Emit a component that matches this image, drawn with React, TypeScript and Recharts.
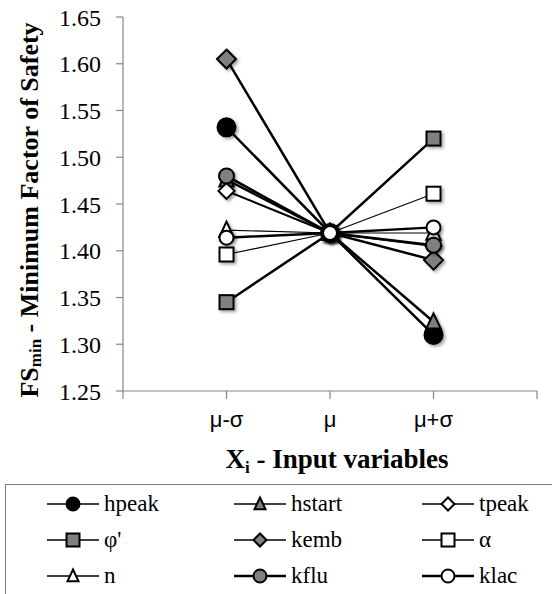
import React from "react"
import { LineChart, Line, XAxis, YAxis } from "recharts"

const xLabels = ["μ-σ", "μ", "μ+σ"]
const yTicks = [1.25, 1.3, 1.35, 1.4, 1.45, 1.5, 1.55, 1.6, 1.65]

const hpeak = [1.532, 1.419, 1.31]
const hstart = [1.476, 1.419, 1.324]
const tpeak = [1.464, 1.419, 1.405]
const phi = [1.345, 1.419, 1.52]
const kemb = [1.605, 1.419, 1.39]
const alpha = [1.396, 1.419, 1.461]
const nVals = [1.422, 1.419, 1.419]
const kflu = [1.48, 1.419, 1.406]
const klac = [1.414, 1.419, 1.425]

type Shape = "circle" | "square" | "diamond" | "triangle"

interface SeriesDef {
  key: string
  label: string
  values: number[]
  shape: Shape
  fill: string
  size: number
  width: number
}

const series: SeriesDef[] = [
  { key: "hpeak", label: "hpeak", values: hpeak, shape: "circle", fill: "#000", size: 9, width: 2.5 },
  { key: "hstart", label: "hstart", values: hstart, shape: "triangle", fill: "#808080", size: 8.5, width: 2.5 },
  { key: "tpeak", label: "tpeak", values: tpeak, shape: "diamond", fill: "#fff", size: 8, width: 2 },
  { key: "phi", label: "φ'", values: phi, shape: "square", fill: "#808080", size: 7, width: 2.5 },
  { key: "kemb", label: "kemb", values: kemb, shape: "diamond", fill: "#808080", size: 9.5, width: 2.5 },
  { key: "alpha", label: "α", values: alpha, shape: "square", fill: "#fff", size: 7, width: 1.2 },
  { key: "n", label: "n", values: nVals, shape: "triangle", fill: "#fff", size: 8.5, width: 1.2 },
  { key: "kflu", label: "kflu", values: kflu, shape: "circle", fill: "#808080", size: 7.5, width: 2.5 },
  { key: "klac", label: "klac", values: klac, shape: "circle", fill: "#fff", size: 7, width: 2.5 },
]

const data = xLabels.map((label, i) => {
  const row: Record<string, number | string> = { x: i + 1, label }
  series.forEach((s) => {
    row[s.key] = s.values[i]
  })
  return row
})

const serif = '"Liberation Serif", "Times New Roman", serif'
const sans = '"Liberation Sans", Arial, sans-serif'

function Marker({ cx, cy, shape, fill, size, filter }: { cx: number; cy: number; shape: Shape; fill: string; size: number; filter?: string }) {
  const common = { fill, stroke: "#000", strokeWidth: 2, filter }
  if (shape === "circle") return <circle cx={cx} cy={cy} r={size} {...common} />
  if (shape === "square") return <rect x={cx - size} y={cy - size} width={size * 2} height={size * 2} {...common} />
  if (shape === "diamond")
    return <polygon points={`${cx},${cy - size} ${cx + size},${cy} ${cx},${cy + size} ${cx - size},${cy}`} {...common} />
  return <polygon points={`${cx},${cy - size} ${cx + size * 0.85},${cy + size * 0.8} ${cx - size * 0.85},${cy + size * 0.8}`} {...common} />
}

function YLabel() {
  const cx = 29
  const cy = 210
  return (
    <text
      x={cx}
      y={cy}
      transform={`rotate(-90, ${cx}, ${cy})`}
      textAnchor="middle"
      dominantBaseline="central"
      style={{ fontFamily: serif, fontWeight: "bold", fontSize: 26 }}
      fill="#000"
    >
      FS
      <tspan dy={6} style={{ fontSize: 17 }}>min</tspan>
      <tspan dy={-6}>{" - Minimum  Factor of Safety"}</tspan>
    </text>
  )
}

function XLabel() {
  return (
    <text x={337} y={468} textAnchor="middle" style={{ fontFamily: serif, fontWeight: "bold", fontSize: 27 }} fill="#000">
      X
      <tspan dy={5} style={{ fontSize: 17 }}>i</tspan>
      <tspan dy={-5}>{" - Input variables"}</tspan>
    </text>
  )
}

function LegendBox() {
  const cols = [47, 234, 422]
  const rows = [504, 540, 576]
  return (
    <div
      style={{
        position: "absolute",
        left: 5,
        top: 484,
        width: 560,
        height: 130,
        border: "1.5px solid #7f7f7f",
        boxSizing: "border-box",
      }}
    >
      {series.map((s, i) => {
        const x = cols[i % 3] - 6
        const y = rows[Math.floor(i / 3)] - 485
        return (
          <div key={s.key} style={{ position: "absolute", left: x, top: y - 12, height: 24, display: "flex", alignItems: "center" }}>
            <svg width={52} height={24}>
              <line x1={0} x2={52} y1={12} y2={12} stroke="#000" strokeWidth={s.key === "kflu" || s.key === "klac" ? 2.5 : 1.5} />
              <Marker cx={26} cy={12} shape={s.shape} fill={s.fill} size={6.5} />
            </svg>
            <span style={{ fontFamily: serif, fontSize: 23, marginLeft: 5, lineHeight: "24px", color: "#000" }}>{s.label}</span>
          </div>
        )
      })}
    </div>
  )
}

export default function App() {
  return (
    <div style={{ position: "absolute", left: 0, top: 0, width: 552, height: 594, background: "#fff" }}>
      <LineChart width={552} height={594} data={data} margin={{ top: 17, right: 15, bottom: 123, left: 0 }}>
        <defs>
          <filter id="shadow" x="-50%" y="-50%" width="200%" height="200%">
            <feDropShadow dx={2} dy={2} stdDeviation={1.5} floodColor="#000" floodOpacity={0.35} />
          </filter>
        </defs>
        <XAxis
          type="number"
          dataKey="x"
          domain={[0, 4]}
          ticks={[0, 1, 2, 3, 4]}
          tickFormatter={(v: number) => xLabels[v - 1] ?? ""}
          height={80}
          axisLine={{ stroke: "#868686", strokeWidth: 1.2 }}
          tickLine={{ stroke: "#868686", strokeWidth: 1.2 }}
          tickSize={8}
          tickMargin={12}
          tick={{ style: { fontFamily: sans, fontSize: 22 }, fill: "#000" }}
        />
        <YAxis
          type="number"
          domain={[1.25, 1.65]}
          ticks={yTicks}
          tickFormatter={(v: number) => v.toFixed(2)}
          width={123}
          axisLine={{ stroke: "#868686", strokeWidth: 1.2 }}
          tickLine={{ stroke: "#868686", strokeWidth: 1.2 }}
          tickSize={7}
          tickMargin={15}
          tick={{ style: { fontFamily: serif, fontSize: 24 }, fill: "#000" }}
          allowDataOverflow
        />
        {series.map((s) => (
          <Line
            key={s.key}
            dataKey={s.key}
            stroke="#000"
            strokeWidth={s.width}
            isAnimationActive={false}
            dot={(p: any) => (
              <Marker key={`${s.key}-${p.index}`} cx={p.cx} cy={p.cy} shape={s.shape} fill={s.fill} size={s.size} filter="url(#shadow)" />
            )}
            activeDot={false}
          />
        ))}
        <YLabel />
        <XLabel />
      </LineChart>
      <LegendBox />
    </div>
  )
}
